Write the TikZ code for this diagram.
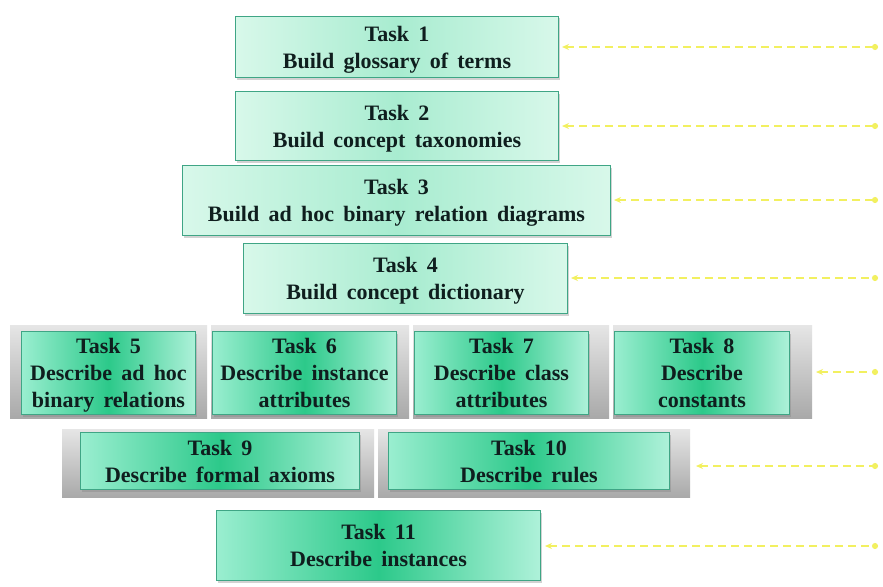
\documentclass[tikz,border=0pt]{standalone}
\usepackage{fontspec}
\setmainfont{Liberation Serif}
\usetikzlibrary{arrows.meta,shadows}
\definecolor{edgegreen}{HTML}{3FA585}
\definecolor{lightedge}{HTML}{D8F8EA}
\definecolor{lightmid}{HTML}{A8ECD0}
\definecolor{darkedge}{HTML}{9AEED0}
\definecolor{darkmid}{HTML}{2CC98A}
\definecolor{txt}{HTML}{0F1E1E}
\definecolor{bandtop}{HTML}{E6E6E6}
\definecolor{bandbot}{HTML}{A9A9A9}
\definecolor{arrowyellow}{HTML}{F2F060}
\newcommand{\boxfont}{\fontsize{22}{27}\selectfont\bfseries\spaceskip=0.42em plus 0.1em minus 0.05em\relax}
\tikzset{
  x=1pt,y=-1pt,
  taskbox/.style={draw=edgegreen,line width=1pt,font=\boxfont,text=txt,text depth=0pt,
    align=center,inner sep=0pt,drop shadow={shadow xshift=1.5pt,shadow yshift=-2pt,opacity=0.35}},
  lightbox/.style={taskbox,left color=lightedge,right color=lightedge,middle color=lightmid},
  darkbox/.style={taskbox,left color=darkedge,right color=darkedge!80,middle color=darkmid},
  band/.style={top color=bandtop,bottom color=bandbot,draw=none},
  link/.style={draw=arrowyellow,line width=1.6pt,dash pattern=on 8pt off 5pt,
    {Stealth[length=7pt,width=6pt]}-{Circle[length=6pt]}}
}
\newcommand{\tbox}[7]{% name style x1 y1 x2 y2 text
  \node[#2,minimum width={#5-#3},minimum height={#6-#4},anchor=north west] (#1) at (#3,#4) {#7};}
\begin{document}
\begin{tikzpicture}
\useasboundingbox (0,0) rectangle (883,586);
\fill[white] (0,0) rectangle (883,586);
% gray bands
\fill[band] (10,325) rectangle (207,418);
\fill[band] (211,325) rectangle (409,418);
\fill[band] (413,325) rectangle (609,418);
\fill[band] (613,325) rectangle (812,418);
\fill[band] (62,429) rectangle (374,497);
\fill[band] (378,429) rectangle (690,497);
% boxes
\tbox{t1}{lightbox}{235}{16}{558}{77}{Task 1\\Build glossary of terms}
\tbox{t2}{lightbox}{235}{91}{558}{160}{Task 2\\Build concept taxonomies}
\tbox{t3}{lightbox}{182}{165}{610}{235}{Task 3\\Build ad hoc binary relation diagrams}
\tbox{t4}{lightbox}{243}{243}{567}{313}{Task 4\\Build concept dictionary}
\tbox{t5}{darkbox}{21}{331}{195}{414}{Task 5\\Describe ad hoc\\binary relations}
\tbox{t6}{darkbox}{212}{331}{396}{414}{Task 6\\Describe instance\\attributes}
\tbox{t7}{darkbox}{414}{331}{588}{414}{Task 7\\Describe class\\attributes}
\tbox{t8}{darkbox}{614}{331}{789}{414}{Task 8\\Describe\\constants}
\tbox{t9}{darkbox}{80}{432}{359}{489}{Task 9\\Describe formal axioms}
\tbox{t10}{darkbox}{388}{432}{669}{489}{Task 10\\Describe rules}
\tbox{t11}{darkbox}{216}{510}{540}{580}{Task 11\\Describe instances}
% link ends
\coordinate (e1) at (878,47);
\coordinate (e2) at (878,126);
\coordinate (e3) at (878,200);
\coordinate (e4) at (878,278);
\coordinate (e5) at (878,372);
\coordinate (e6) at (878,466);
\coordinate (e7) at (878,546);
\draw[link] ([xshift=3pt]t1.east |- e1) -- (e1);
\draw[link] ([xshift=3pt]t2.east |- e2) -- (e2);
\draw[link] ([xshift=3pt]t3.east |- e3) -- (e3);
\draw[link] ([xshift=3pt]t4.east |- e4) -- (e4);
\draw[link] ([xshift=26pt]t8.east |- e5) -- (e5);
\draw[link] ([xshift=26pt]t10.east |- e6) -- (e6);
\draw[link] ([xshift=4pt]t11.east |- e7) -- (e7);
\end{tikzpicture}
\end{document}
